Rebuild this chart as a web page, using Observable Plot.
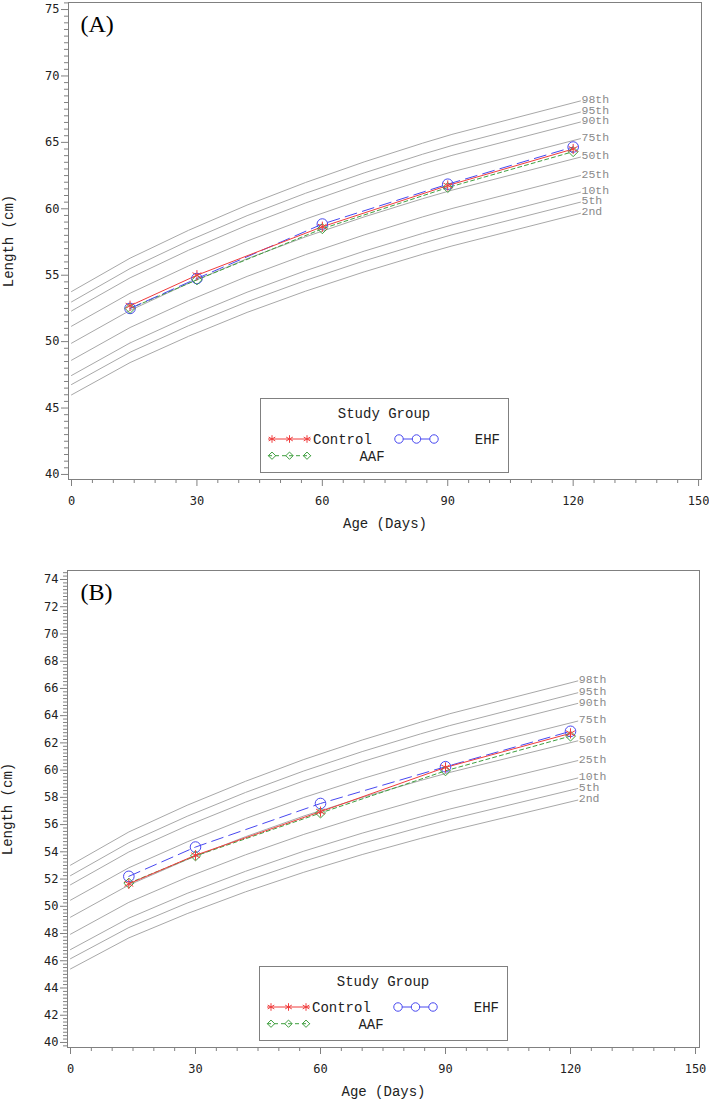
<!DOCTYPE html>
<html><head><meta charset="utf-8">
<script src="https://cdn.jsdelivr.net/npm/d3@7"></script>
<script src="https://cdn.jsdelivr.net/npm/@observablehq/plot@0.6"></script>
<style>
body{margin:0;background:#fff;}
.panel{position:relative;width:709px;}
.panel svg{display:block;}
.legend{position:absolute;display:block;}
</style></head><body>
<div id="A" class="panel"></div>
<div id="B" class="panel"></div>
<script>
// ---------- data ----------
const groups = ["Control", "AAF", "EHF"];
const groupColors = ["#f03c3c", "#3f9f3f", "#4848f0"];
const groupSymbols = ["asterisk", "diamond2", "circle"];
const groupDash = [null, "4,3", "12,6"];
const visitDays = [14, 30, 60, 90, 120];

// Panel A measured lengths (cm)
const A_control = [52.7, 55.0, 58.65, 61.75, 64.5];
const A_aaf     = [52.5, 54.65, 58.5, 61.6, 64.3];
const A_ehf     = [52.5, 54.75, 58.85, 61.85, 64.65];
// Panel B measured lengths (cm)
const B_control = [51.65, 53.75, 56.95, 60.2, 62.7];
const B_aaf     = [51.7, 53.7, 56.85, 59.95, 62.5];
const B_ehf     = [52.2, 54.35, 57.55, 60.25, 62.85];

// Reference percentile curves
const pctLabels = ["2nd", "5th", "10th", "25th", "50th", "75th", "90th", "95th", "98th"];
const pctDays = [0, 14, 28, 42, 56, 70, 84, 91, 121.75];
const A_p2  = [45.99, 48.42, 50.40, 52.20, 53.80, 55.25, 56.58, 57.20, 59.66];
const A_p5  = [46.77, 49.20, 51.20, 53.00, 54.61, 56.08, 57.41, 58.04, 60.50];
const A_p10 = [47.45, 49.90, 51.90, 53.72, 55.34, 56.81, 58.15, 58.78, 61.25];
const A_p25 = [48.60, 51.06, 53.08, 54.91, 56.55, 58.03, 59.39, 60.02, 62.50];
const A_p50 = [49.88, 52.35, 54.39, 56.24, 57.89, 59.39, 60.76, 61.40, 63.89];
const A_p75 = [51.16, 53.64, 55.70, 57.57, 59.23, 60.75, 62.13, 62.78, 65.28];
const A_p90 = [52.31, 54.80, 56.88, 58.76, 60.44, 61.97, 63.37, 64.02, 66.53];
const A_p95 = [52.99, 55.50, 57.59, 59.48, 61.17, 62.70, 64.11, 64.76, 67.28];
const A_p98 = [53.77, 56.28, 58.38, 60.28, 61.98, 63.53, 64.94, 65.60, 68.12];

const B_p2  = [45.40, 47.68, 49.46, 51.06, 52.50, 53.80, 54.98, 55.54, 57.80];
const B_p5  = [46.15, 48.44, 50.24, 51.85, 53.31, 54.62, 55.81, 56.38, 58.65];
const B_p10 = [46.82, 49.13, 50.95, 52.57, 54.05, 55.37, 56.57, 57.14, 59.42];
const B_p25 = [47.95, 50.29, 52.13, 53.78, 55.28, 56.62, 57.84, 58.42, 60.70];
const B_p50 = [49.20, 51.56, 53.43, 55.11, 56.63, 57.99, 59.24, 59.83, 62.15];
const B_p75 = [50.45, 52.83, 54.73, 56.44, 57.99, 59.37, 60.64, 61.24, 63.60];
const B_p90 = [51.58, 53.99, 55.92, 57.65, 59.21, 60.62, 61.91, 62.52, 64.90];
const B_p95 = [52.25, 54.67, 56.61, 58.36, 59.94, 61.36, 62.66, 63.27, 65.68];
const B_p98 = [53.02, 55.46, 57.42, 59.18, 60.78, 62.21, 63.52, 64.14, 66.55];

// Axis ticks
const xTicks = [0, 30, 60, 90, 120, 150];
const yTicksA = [40, 45, 50, 55, 60, 65, 70, 75];
const yTicksB = [40, 42, 44, 46, 48, 50, 52, 54, 56, 58, 60, 62, 64, 66, 68, 70, 72, 74];
const xMinorTicks = d3.range(0, 151, 5).filter(v => v % 30 !== 0);
const yMinorA = d3.range(39.5, 75.51, 0.5).filter(v => v % 5 !== 0 && v > 39.62);
const yMinorB = d3.range(39.75, 74.66, 0.25).filter(v => v % 2 !== 0);

// ---------- drawing ----------
const mono = "Liberation Mono, Courier New, monospace";
const tickFont = "DejaVu Sans Mono, monospace";
const gray = "#808080";

function makePanel(cfg) {
  const pRows = pctLabels.flatMap((p, i) => pctDays.map((d, j) => ({pct: p, day: d, value: cfg.pcts[i][j]})));
  const lastDay = pctDays[pctDays.length - 1];
  const lastRows = pRows.filter(r => r.day === lastDay);
  const gRows = groups.flatMap((g, i) => visitDays.map((d, j) => ({group: g, day: d, value: cfg.series[i][j]})));

  const marks = [
    Plot.line(pRows, {x: "day", y: "value", z: "pct", stroke: "#a8a8a8", strokeWidth: 1}),
    Plot.text(lastRows, {x: "day", y: "value", text: "pct", textAnchor: "start", dx: 1, dy: -1.5,
      fill: "#8a8a8a", fontFamily: mono, fontSize: 11.5})
  ];
  for (const i of [1, 2, 0]) {
    const rows = gRows.filter(r => r.group === groups[i]);
    const opt = {x: "day", y: "value", stroke: groupColors[i], strokeWidth: 1};
    if (groupDash[i]) opt.strokeDasharray = groupDash[i];
    marks.push(Plot.line(rows, opt));
  }
  const rs = [4.8, 4.5, 5.3];
  for (const i of [2, 1, 0]) {
    const rows = gRows.filter(r => r.group === groups[i]);
    marks.push(Plot.dot(rows, {x: "day", y: "value", symbol: groupSymbols[i], stroke: groupColors[i],
      fill: "none", r: rs[i], strokeWidth: 1}));
  }
  marks.push(
    Plot.axisX({ticks: xMinorTicks, tickSize: 4, fill: "none", stroke: gray, label: null}),
    Plot.axisX({ticks: xTicks, tickSize: 7, tickPadding: 10, stroke: gray, fill: "#222",
      fontSize: 12, fontFamily: tickFont, label: null}),
    Plot.axisY({ticks: cfg.yMinor, tickSize: 4, fill: "none", stroke: gray, label: null}),
    Plot.axisY({ticks: cfg.yTicks, tickSize: 7, tickPadding: 2, stroke: gray, fill: "#222",
      fontSize: 12, fontFamily: tickFont, label: null}),
    Plot.frame({stroke: gray}),
    Plot.text(["Age (Days)"], {frameAnchor: "bottom", dy: 44, lineAnchor: "middle", textAnchor: "middle",
      fontFamily: mono, fontSize: 14, fill: "#222"}),
    Plot.text(["Length (cm)"], {frameAnchor: "left", rotate: -90, dx: -65, lineAnchor: "top", textAnchor: "middle",
      fontFamily: mono, fontSize: 14, fill: "#222"}),
    Plot.text([cfg.tag], {frameAnchor: "top-left", dx: cfg.tagDx, dy: 12, lineAnchor: "top", textAnchor: "start",
      fontFamily: "Liberation Serif, Times New Roman, serif", fontSize: 24, fill: "#000"})
  );

  const chart = Plot.plot({
    width: 709, height: cfg.height,
    marginTop: cfg.marginTop, marginBottom: 56, marginLeft: cfg.marginLeft, marginRight: cfg.marginRight,
    x: {domain: cfg.xDomain},
    y: {domain: cfg.yDomain},
    style: {background: "white", overflow: "visible"},
    marks
  });
  const host = document.getElementById(cfg.id);
  host.appendChild(chart);
  addLegend(host, cfg.legendLeft, cfg.legendTop);
}

function addLegend(host, left, top) {
  const W = 249, H = 75;
  const svg = d3.select(host).append("svg").attr("class", "legend")
    .attr("width", W).attr("height", H)
    .style("left", left + "px").style("top", top + "px");
  svg.append("rect").attr("x", 0.5).attr("y", 0.5).attr("width", W - 1).attr("height", H - 1)
    .attr("fill", "white").attr("stroke", gray);
  svg.append("text").attr("x", 124).attr("y", 19.5).attr("text-anchor", "middle")
    .attr("font-family", mono).attr("font-size", 14).attr("fill", "#222").text("Study Group");

  const d3sym = {asterisk: d3.symbolAsterisk, diamond2: d3.symbolDiamond2, circle: d3.symbolCircle};
  const sizes = {asterisk: 40, diamond2: 34, circle: 56};
  const items = [
    {i: 0, x0: 12, y: 41, tx: 53, ty: 46, anchor: "start"},
    {i: 1, x0: 12, y: 57.7, tx: 112, ty: 62.5, anchor: "middle"},
    {i: 2, x0: 139, y: 41, tx: 240, ty: 46, anchor: "end"}
  ];
  for (const it of items) {
    const c = groupColors[it.i];
    const xs = [it.x0, it.x0 + 17.5, it.x0 + 35];
    const ln = svg.append("line").attr("x1", xs[0] - 4).attr("x2", xs[2] + 4)
      .attr("y1", it.y).attr("y2", it.y).attr("stroke", c).attr("stroke-width", 1);
    if (it.i === 1) ln.attr("stroke-dasharray", "4,3");
    const sym = groupSymbols[it.i];
    for (const x of xs) {
      svg.append("path").attr("d", d3.symbol().type(d3sym[sym]).size(sizes[sym])())
        .attr("transform", `translate(${x},${it.y})`)
        .attr("fill", it.i === 2 ? "white" : "none").attr("stroke", c).attr("stroke-width", 1);
    }
    svg.append("text").attr("x", it.tx).attr("y", it.ty).attr("text-anchor", it.anchor)
      .attr("font-family", mono).attr("font-size", 14).attr("fill", "#222").text(groups[it.i]);
  }
}

makePanel({
  id: "A", tag: "(A)", tagDx: 12,
  pcts: [A_p2, A_p5, A_p10, A_p25, A_p50, A_p75, A_p90, A_p95, A_p98],
  series: [A_control, A_aaf, A_ehf],
  height: 535, marginTop: 2, marginLeft: 68, marginRight: 8,
  xDomain: [-0.72, 150.7], yDomain: [39.62, 75.53],
  yTicks: yTicksA, yMinor: yMinorA,
  legendLeft: 260, legendTop: 398
});
makePanel({
  id: "B", tag: "(B)", tagDx: 13,
  pcts: [B_p2, B_p5, B_p10, B_p25, B_p50, B_p75, B_p90, B_p95, B_p98],
  series: [B_control, B_aaf, B_ehf],
  height: 568, marginTop: 35, marginLeft: 67, marginRight: 10,
  xDomain: [-0.72, 150.96], yDomain: [39.63, 74.66],
  yTicks: yTicksB, yMinor: yMinorB,
  legendLeft: 259, legendTop: 431
});
</script>
</body></html>
